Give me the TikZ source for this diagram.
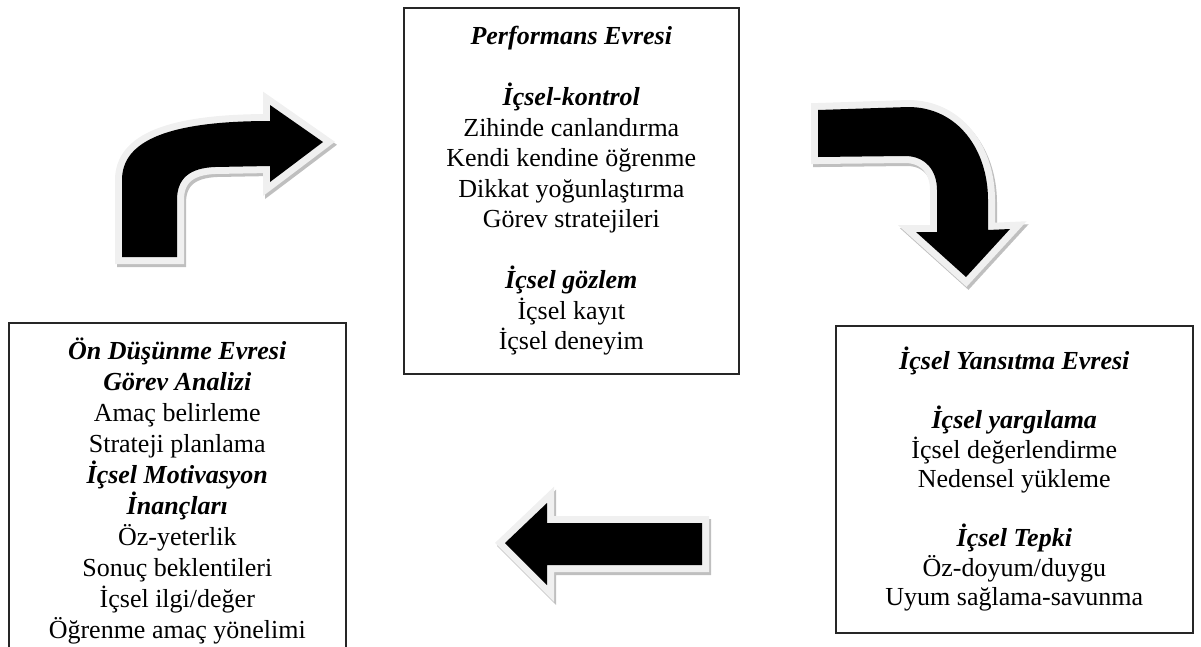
\documentclass[tikz,border=0pt]{standalone}
\usepackage{fontspec}
\setmainfont{Liberation Serif}
\newcommand\hd[1]{\textbf{\textit{#1}}}
% block arrow outlines (x right, y down, 1 unit = 1pt)
\def\ArrowUpRight{(122,257) -- (122,180) .. controls (122,140) and (170,121) .. (270,121)
  -- (270,105) -- (323,142) -- (270,182) -- (270,166) -- (215,167)
  .. controls (190,168) and (177,178) .. (177,200) -- (177,257) -- cycle}
\def\ArrowRightDown{(818,110) -- (908,107) .. controls (958,107) and (988,150) .. (988,200)
  -- (988,230) -- (1010,229) -- (966,277) -- (916,232) -- (937,232) -- (937,190)
  .. controls (937,170) and (925,156) .. (905,156) -- (818,157) -- cycle}
\def\ArrowLeft{(702,523) -- (547,523) -- (547,503) -- (505,543) -- (547,585)
  -- (547,565) -- (702,565) -- cycle}
\begin{document}
\begin{tikzpicture}[x=1pt,y=-1pt,
  phasebox/.style={draw=black!85, line width=1.6pt, fill=white, align=center,
    inner sep=0pt, anchor=north west, font=\fontsize{26}{30}\selectfont},
  arrowshadow/.style={fill=black!25, draw=black!25, line width=14pt, line join=miter},
  arrowrim/.style={fill=black!6, draw=black!6, line width=14pt, line join=miter},
  arrowbody/.style={fill=black}]
\useasboundingbox (0,0) rectangle (1201,646);

% performance phase
\node[phasebox, font=\fontsize{26}{30.5}\selectfont, minimum width=335pt, minimum height=366pt] (perf) at (403,7) {%
  \hd{Performans Evresi}\\[30.5pt]
  \hd{İçsel-kontrol}\\
  Zihinde canlandırma\\
  Kendi kendine öğrenme\\
  Dikkat yoğunlaştırma\\
  Görev stratejileri\\[30.5pt]
  \hd{İçsel gözlem}\\
  İçsel kayıt\\
  İçsel deneyim};

% forethought phase
\node[phasebox, font=\fontsize{26}{31}\selectfont, minimum width=337pt, minimum height=336pt] (fore) at (8,322) {%
  \hd{Ön Düşünme Evresi}\\
  \hd{Görev Analizi}\\
  Amaç belirleme\\
  Strateji planlama\\
  \hd{İçsel Motivasyon}\\
  \hd{İnançları}\\
  Öz-yeterlik\\
  Sonuç beklentileri\\
  İçsel ilgi/değer\\
  Öğrenme amaç yönelimi};

% self-reflection phase
\node[phasebox, font=\fontsize{26}{29.5}\selectfont, minimum width=357pt, minimum height=307pt] (refl) at (835,325) {%
  \hd{İçsel Yansıtma Evresi}\\[29.5pt]
  \hd{İçsel yargılama}\\
  İçsel değerlendirme\\
  Nedensel yükleme\\[29.5pt]
  \hd{İçsel Tepki}\\
  Öz-doyum/duygu\\
  Uyum sağlama-savunma};

% cycle arrows: shadow, light rim, black body
\foreach \shape in {\ArrowUpRight,\ArrowRightDown,\ArrowLeft}{
  \path[arrowshadow, shift={(2,3)}] \shape;
  \path[arrowrim] \shape;
  \path[arrowbody] \shape;
}
\end{tikzpicture}
\end{document}
